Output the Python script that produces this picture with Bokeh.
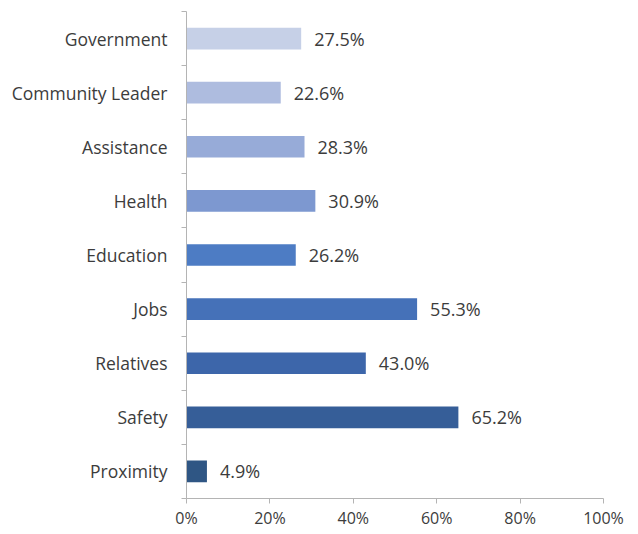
from bokeh.plotting import figure
from bokeh.models import ColumnDataSource, FixedTicker, Range1d, NumeralTickFormatter
from bokeh.core.properties import value
from bokeh.embed import file_html
from bokeh.resources import INLINE

categories = ["Government", "Community Leader", "Assistance", "Health", "Education",
              "Jobs", "Relatives", "Safety", "Proximity"]
values = [27.5, 22.6, 28.3, 30.9, 26.2, 55.3, 43.0, 65.2, 4.9]
colors = ["#c6d0e7", "#aebcdf", "#97abd8", "#7d98d0", "#4d7cc4",
          "#4571b8", "#3d66aa", "#365e98", "#2f5684"]
x_ticks = [0, 20, 40, 60, 80, 100]

n = len(categories)
ypos = [n - i - 0.5 for i in range(n)]
labels = [f"{v:.1f}%" for v in values]

src = ColumnDataSource(dict(y=ypos, v=[v / 100 for v in values], c=colors, lab=labels))

p = figure(frame_width=417, frame_height=487, width=630, height=526,
           min_border_left=186, min_border_right=27, min_border_top=11, min_border_bottom=28,
           x_range=Range1d(0, 1), y_range=Range1d(0, n),
           output_backend="svg", toolbar_location=None)
p.outline_line_color = None
p.xgrid.grid_line_color = None
p.ygrid.grid_line_color = None

p.hbar(y="y", right="v", left=0, height=0.4, fill_color="c", line_color=None, source=src)
p.text(x="v", y="y", text="lab", x_offset=13, text_baseline="middle", text_align="left",
       text_font=value("Open Sans"), text_font_size="18px", text_color="#3c3c3c", source=src)

axis_col = "#b4b4b4"
# y axis
p.yaxis.ticker = FixedTicker(ticks=ypos, minor_ticks=list(range(n + 1)))
p.yaxis.major_label_overrides = {y: c for y, c in zip(ypos, categories)}
p.yaxis.major_tick_out = 0
p.yaxis.major_tick_in = 0
p.yaxis.minor_tick_out = 5
p.yaxis.minor_tick_in = 0
p.yaxis.minor_tick_line_color = axis_col
p.yaxis.axis_line_color = axis_col
p.yaxis.major_label_standoff = 14
p.yaxis.major_label_text_font = "Open Sans"
p.yaxis.major_label_text_font_size = "17.5px"
p.yaxis.major_label_text_color = "#3c3c3c"

# x axis
p.xaxis.ticker = FixedTicker(ticks=[t / 100 for t in x_ticks], minor_ticks=[])
p.xaxis.formatter = NumeralTickFormatter(format="0%")
p.xaxis.major_tick_out = 5
p.xaxis.major_tick_in = 0
p.xaxis.major_tick_line_color = axis_col
p.xaxis.axis_line_color = axis_col
p.xaxis.major_label_standoff = 3
p.xaxis.major_label_text_font = "Open Sans"
p.xaxis.major_label_text_font_size = "16px"
p.xaxis.major_label_text_color = "#3c3c3c"

open("out.html", "w").write(file_html(p, INLINE))
